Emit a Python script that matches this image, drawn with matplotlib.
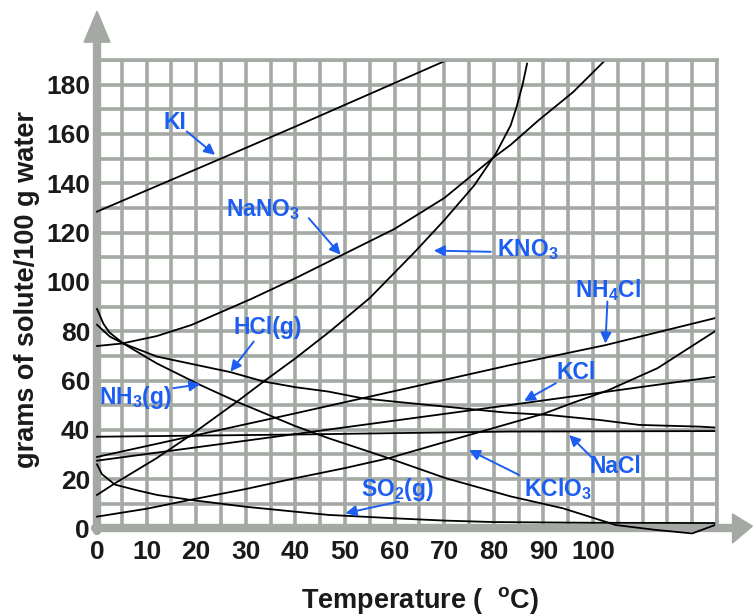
import numpy as np
import matplotlib.pyplot as plt
from matplotlib.patches import Polygon
from matplotlib.lines import Line2D

plt.rcParams['font.family'] = ['Liberation Sans', 'DejaVu Sans']
plt.rcParams['mathtext.fontset'] = 'custom'
plt.rcParams['mathtext.rm'] = 'Liberation Sans:bold'
plt.rcParams['mathtext.it'] = 'Liberation Sans:bold'
plt.rcParams['mathtext.bf'] = 'Liberation Sans:bold'

# solubility curves (temperature, grams / 100 g water)
ki_t = [0, 25, 40, 70.6]
ki_s = [128.5, 150, 163, 190]

nano3_t = [0, 5, 12, 19, 31, 40, 49, 60, 70, 80, 83.4, 89, 96, 102.5]
nano3_s = [74, 75, 78, 82.5, 93, 101.5, 110.5, 121.5, 134, 150.5, 155.6, 165.5, 177, 190]

kno3_t = [0, 3.6, 12, 19, 28.2, 33.6, 40, 47, 55, 64, 70, 76, 80.4, 83.4, 84.6, 85.8, 86.7]
kno3_s = [13.6, 18.3, 28.5, 38, 51.4, 59.6, 69, 80, 93.5, 112, 125, 139, 152, 163.5, 171, 180, 188.5]

nh4cl_t = [0, 40, 83.4, 102.6, 125]
nh4cl_s = [29, 46.7, 66.3, 74.4, 85.5]

kcl_t = [0, 40, 83.4, 125]
kcl_s = [27.5, 38.3, 50.1, 61.6]

nacl_t = [0, 40, 83, 125]
nacl_s = [37.2, 38.1, 39.3, 39.5]

kclo3_t = [0, 10, 18.8, 30, 40, 50, 58.8, 70, 83, 90, 96, 103, 113, 125]
kclo3_s = [4.8, 8, 11.6, 16, 20.4, 24.5, 28.5, 35, 42.5, 46.5, 51, 56, 65, 80.5]

nh3_t = [0, 1.3, 2.5, 5.3, 12, 20.8, 28.2, 40, 46.7, 58.8, 70.3, 83.4, 93.9, 104.6, 112.7, 120, 124.6]
nh3_s = [89, 83, 79.5, 75, 67, 58.2, 51.4, 41.5, 36.6, 28.5, 20.4, 13, 8.2, 1.4, -0.6, -2, 1.4]

hcl_t = [0, 2.6, 5.3, 12.1, 26.9, 33.6, 40, 46.7, 53.5, 60.2, 70.3, 82.4, 91.2, 101.3, 109.3, 121.5, 125]
hcl_s = [82.6, 77.8, 75, 69.7, 63.4, 59.6, 57.3, 55.5, 52.8, 51.4, 49.4, 47, 46, 44, 42, 41.3, 40.9]

so2_t = [0, 1, 3.6, 8, 12.1, 18.8, 30, 40, 46.7, 60.2, 70, 80, 100, 125]
so2_s = [26, 22, 17.8, 15.5, 13.6, 11.6, 8.8, 6.8, 5.5, 4.1, 3.2, 2.6, 2.3, 2.2]

curves = [(ki_t, ki_s), (nano3_t, nano3_s), (kno3_t, kno3_s), (nh4cl_t, nh4cl_s),
          (kcl_t, kcl_s), (nacl_t, nacl_s), (kclo3_t, kclo3_s), (nh3_t, nh3_s),
          (hcl_t, hcl_s), (so2_t, so2_s)]

# label text, text position, arrow tail, arrow head
labels = [
    ('KI', (15.8, 164.5), (18.1, 161), (23.8, 151.5)),
    ('NaNO$_3$', (33.5, 129.5), (42.7, 125.8), (49.1, 111)),
    ('KNO$_3$', (86.8, 113), (79.4, 112.2), (67.9, 112.7)),
    ('NH$_4$Cl', (103, 96.5), (102.9, 92), (102.5, 75)),
    ('KCl', (96.6, 63.3), (92.5, 58.9), (86.1, 51.7)),
    ('NaCl', (104.5, 25), (99.9, 28.5), (95.2, 37.9)),
    ('KClO$_3$', (93, 16), (85.1, 21.7), (75, 31.8)),
    ('SO$_2$(g)', (60.5, 16), (60.9, 10.9), (50.1, 6.2)),
    ('HCl(g)', (34.5, 81.7), (31.6, 75.8), (26.9, 63.6)),
    ('NH$_3$(g)', (7.8, 53), (15.4, 56.9), (20.8, 58.5)),
]

x_labels = [0, 10, 20, 30, 40, 50, 60, 70, 80, 90, 100]
y_labels = [0, 20, 40, 60, 80, 100, 120, 140, 160, 180]

gray = '#a4a9a4'
blue = '#1c5ef2'

fig = plt.figure(figsize=(7.55, 6.15), dpi=100)
ax = fig.add_axes([0.1285, 0.1407, 0.8212, 0.7618])
ax.set_xlim(0, 125)
ax.set_ylim(0, 190)

ax.set_xticks(x_labels)
ax.set_yticks(y_labels)
ax.set_xticks(np.arange(0, 126, 5), minor=True)
ax.set_yticks(np.arange(0, 191, 10), minor=True)
ax.grid(which='both', color=gray, lw=2.6)
ax.set_axisbelow(True)
ax.tick_params(which='both', length=0)
ax.tick_params(axis='x', pad=8)
ax.tick_params(axis='y', pad=5)
for lab in ax.get_xticklabels() + ax.get_yticklabels():
    lab.set_fontsize(19)
    lab.set_fontweight('bold')
    lab.set_color('#1a1a1a')

for side in ['top', 'right']:
    ax.spines[side].set_color(gray)
    ax.spines[side].set_linewidth(2.6)
for side in ['left', 'bottom']:
    ax.spines[side].set_visible(False)

# thick axes with arrowheads
tr = ax.transAxes
ax.add_line(Line2D([0, 0], [-0.005, 1.045], transform=tr, color=gray, lw=6, clip_on=False, solid_capstyle='round'))
ax.add_line(Line2D([-0.004, 1.03], [0, 0], transform=tr, color=gray, lw=6, clip_on=False, solid_capstyle='round'))
ax.add_patch(Polygon([[-0.021, 1.038], [0.021, 1.038], [0, 1.104]], closed=True,
                     transform=tr, color=gray, clip_on=False))
ax.add_patch(Polygon([[1.025, -0.031], [1.025, 0.031], [1.057, 0.005]], closed=True,
                     transform=tr, color=gray, clip_on=False))

for t, s in curves:
    ax.plot(t, s, color='black', lw=1.3, clip_on=False)

for txt, pos, tail, head in labels:
    ax.text(pos[0], pos[1], txt, color=blue, fontsize=16.5, fontweight='bold',
            ha='center', va='center')
    ax.annotate('', xy=head, xytext=tail,
                arrowprops=dict(arrowstyle='-|>', color=blue, lw=1.4,
                                mutation_scale=16, shrinkA=0, shrinkB=0))

fig.text(420 / 755, 1 - 600 / 615, r'Temperature (  $^{\mathbf{o}}$C)', fontsize=19.5,
         fontweight='bold', ha='center', va='center', color='#1a1a1a')
fig.text(27 / 755, 1 - 290 / 615, 'grams of solute/100 g water', fontsize=19.5,
         fontweight='bold', ha='center', va='center', rotation=90, color='#1a1a1a')

fig.savefig('out.png', dpi=100)
